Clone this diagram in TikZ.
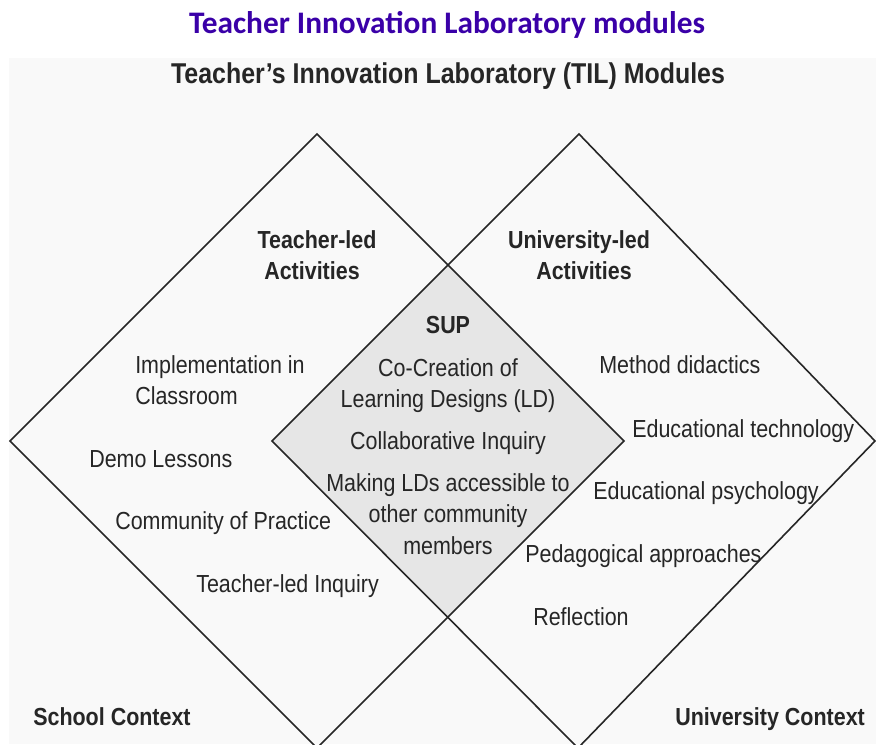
\documentclass[tikz,border=0pt]{standalone}
\usepackage{fontspec}
\usepackage{xcolor}
\setmainfont[FakeStretch=0.87]{Liberation Sans}
\newfontfamily\titlefont{Carlito}
\definecolor{titlepurple}{RGB}{58,0,168}
\definecolor{inkgray}{RGB}{38,38,38}
\definecolor{paper}{RGB}{249,249,249}
\definecolor{supgray}{RGB}{230,230,230}

\begin{document}
\begin{tikzpicture}[
    x=0.75pt, y=-0.75pt,
    item/.style={
        inner sep=0pt,
        anchor=base west,
        text=inkgray,
        font=\fontsize{18.5}{22}\selectfont
    },
    midtext/.style={item, anchor=base},
    head/.style={midtext, font=\fontsize{18.5}{22}\selectfont\bfseries},
    frame/.style={draw=black!85, line width=1.2pt, line join=miter}
]
  \useasboundingbox (0,0) rectangle (876,744);
  \fill[white] (0,0) rectangle (876,744);
  \fill[paper] (9,58) rectangle (876,744);
  \clip (0,0) rectangle (876,744);

  \coordinate (ltop) at (317,134);
  \coordinate (lleft) at (10,441);
  \coordinate (lright) at (624,441);
  \coordinate (lbottom) at (317,748);
  \coordinate (rtop) at (579,134);
  \coordinate (rleft) at (272,441);
  \coordinate (rright) at (875,441);
  \coordinate (rbottom) at (578,748);
  \coordinate (suptop) at (448,265);
  \coordinate (supbottom) at (448,617);

  \fill[supgray] (suptop) -- (lright) -- (supbottom) -- (rleft) -- cycle;
  \draw[frame] (ltop) -- (lright) -- (lbottom) -- (lleft) -- cycle;
  \draw[frame] (rtop) -- (rright) -- (rbottom) -- (rleft) -- cycle;

  \node[midtext, text=titlepurple, font=\titlefont\fontsize{23.5}{28}\selectfont\bfseries]
    (title) at (447,33) {Teacher Innovation Laboratory modules};
  \node[head, font=\fontsize{21.5}{25}\selectfont\bfseries] (til) at (448,83)
    {Teacher’s Innovation Laboratory (TIL) Modules};

  \node[head] (tled) at (317,248) {Teacher-led};
  \node[head] (tact) at (312,279) {Activities};
  \node[head] (uled) at (579,248) {University-led};
  \node[head] (uact) at (584,279) {Activities};

  \node[head] (sup) at (448,333) {SUP};
  \node[midtext] (cocreate) at (448,376) {Co-Creation of};
  \node[midtext] (ldesign) at (448,407) {Learning Designs (LD)};
  \node[midtext] (collab) at (448,449) {Collaborative Inquiry};
  \node[midtext] (making) at (448,491) {Making LDs accessible to};
  \node[midtext] (other) at (448,522) {other community};
  \node[midtext] (members) at (448,554) {members};

  \node[item] (implement) at (135,373) {Implementation in};
  \node[item] (classroom) at (135,404) {Classroom};
  \node[item] (demo) at (89,467) {Demo Lessons};
  \node[item] (practice) at (115,529) {Community of Practice};
  \node[item] (tinquiry) at (196,592) {Teacher-led Inquiry};

  \node[item] (method) at (599,373) {Method didactics};
  \node[item] (edtech) at (632,437) {Educational technology};
  \node[item] (edpsych) at (593,499) {Educational psychology};
  \node[item] (pedagogy) at (525,562) {Pedagogical approaches};
  \node[item] (reflect) at (533,625) {Reflection};

  \node[item, font=\fontsize{18.5}{22}\selectfont\bfseries] (school) at (33,725) {School Context};
  \node[item, font=\fontsize{18.5}{22}\selectfont\bfseries] (ucontext) at (675,725) {University Context};
\end{tikzpicture}
\end{document}
